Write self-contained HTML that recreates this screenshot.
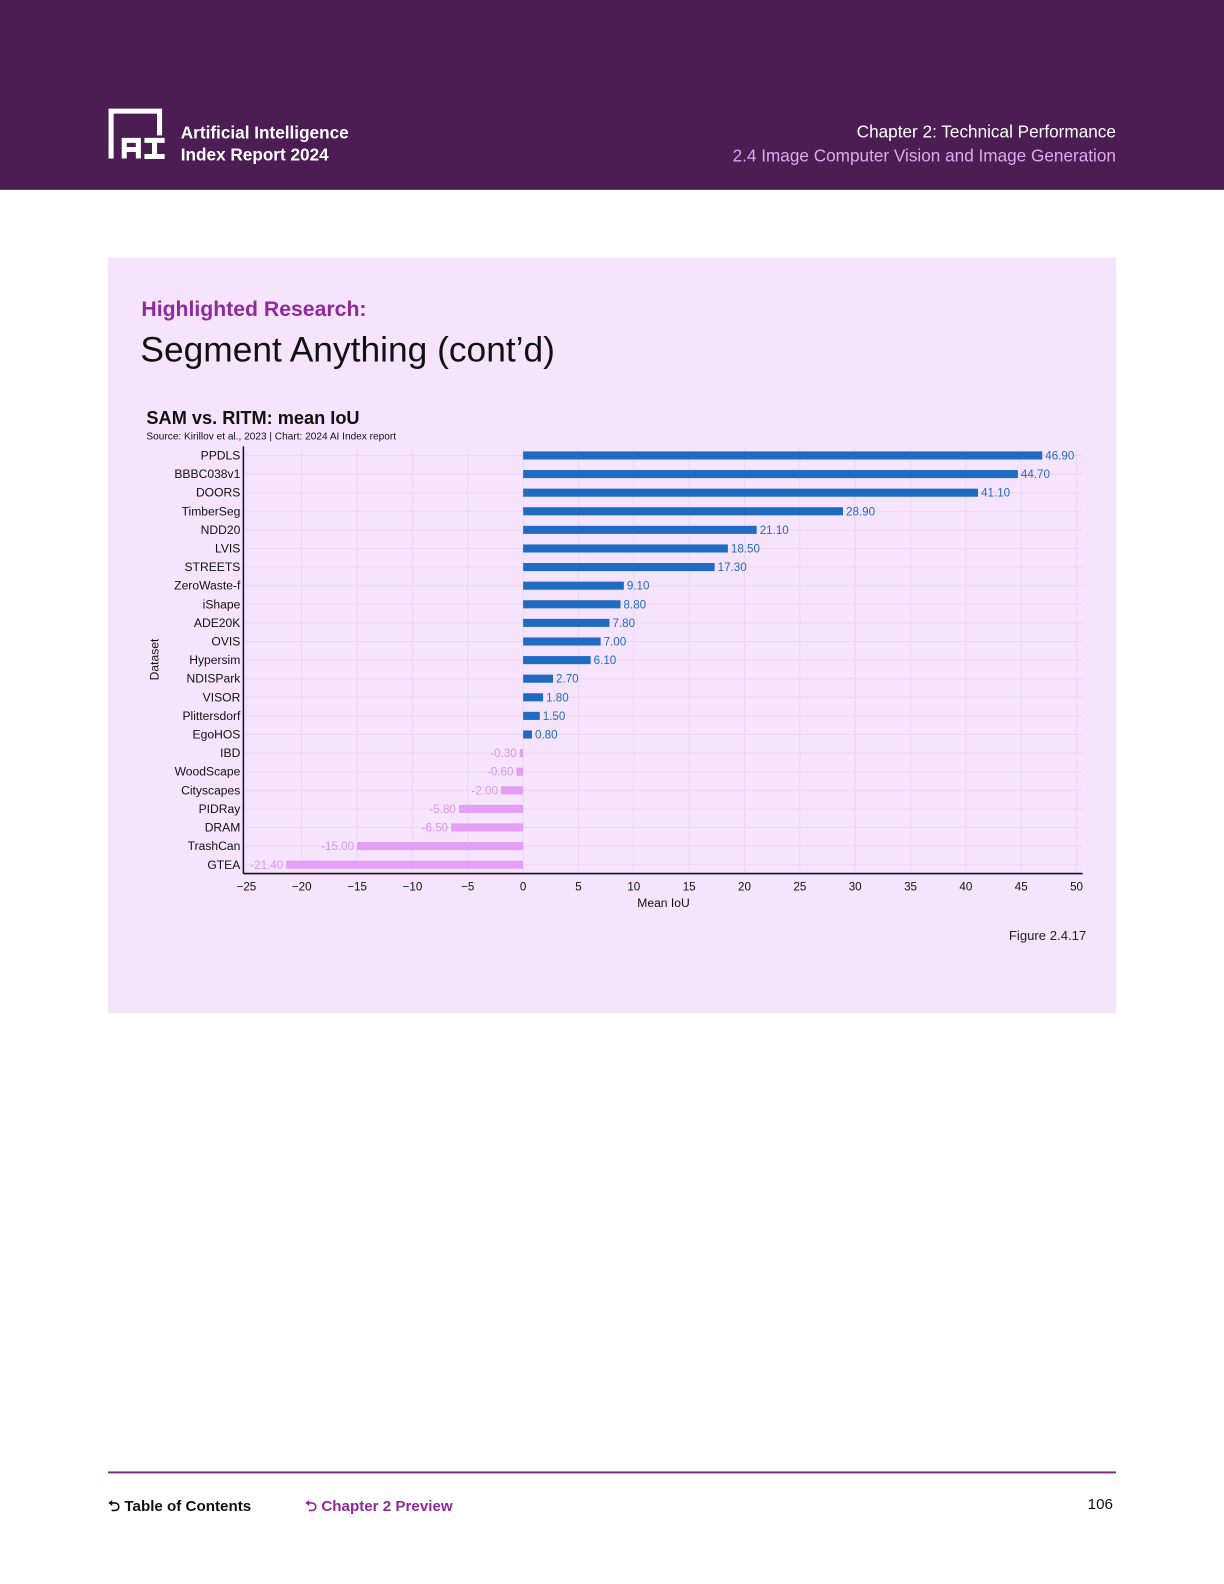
<!DOCTYPE html>
<html><head><meta charset="utf-8"><style>
body{margin:0;width:1224px;height:1584px;background:#fff;font-family:"Liberation Sans",sans-serif;position:relative;overflow:hidden}
#wrap{position:absolute;left:0;top:0;width:1212px;height:1568px;transform:scale(1.0099);transform-origin:0 0}
.abs{position:absolute}
</style></head><body>
<div id="wrap">
<div class="abs" style="left:0;top:0;width:1224px;height:188px;background:#4b1d52"></div>
<svg class="abs" style="left:107px;top:107px" width="60" height="52">
<path d="M3 50V3h48v24" fill="none" stroke="#fff" stroke-width="5"/>
<path d="M16 50V32h14v18M16 41h14" fill="none" stroke="#fff" stroke-width="5"/>
<path d="M36 32h20M46 32v16M36 48h20" fill="none" stroke="#fff" stroke-width="5"/>
</svg>
<div class="abs" style="left:179px;top:121px;color:#fff;font-size:17px;font-weight:bold;line-height:22px">Artificial Intelligence<br>Index Report 2024</div>
<div class="abs" style="right:107px;top:119px;color:#fff;font-size:17px;text-align:right;line-height:24px">Chapter 2: Technical Performance<br><span style="color:#e3a6f0">2.4 Image Computer Vision and Image Generation</span></div>
<div class="abs" style="left:107px;top:255px;width:998px;height:748px;background:#f6e4fc"></div>
<div class="abs" style="left:140px;top:295px;color:#8e2a9b;font-size:21px;font-weight:bold">Highlighted Research:</div>
<div class="abs" style="left:139px;top:327px;color:#111;font-size:35px">Segment Anything (cont’d)</div>
<div class="abs" style="left:145px;top:404px;font-size:18px;font-weight:bold;color:#111">SAM vs. RITM: mean IoU</div>
<div class="abs" style="left:145px;top:427px;font-size:10px;color:#111">Source: Kirillov et al., 2023 | Chart: 2024 AI Index report</div>
<svg class="abs" id="chart" style="left:0;top:0" width="1224" height="1000"></svg>
<div class="abs" style="left:999px;top:919px;font-size:13px;color:#222">Figure 2.4.17</div>
<div class="abs" style="left:107px;top:1457px;width:998px;height:2px;background:#7a2d86"></div>
<div class="abs" style="left:107px;top:1481px;font-size:15px;font-weight:bold;color:#111">⮌ Table of Contents</div>
<div class="abs" style="left:302px;top:1481px;font-size:15px;font-weight:bold;color:#8e2a9b">⮌ Chapter 2 Preview</div>
<div class="abs" style="left:1077px;top:1481px;font-size:15px;color:#111">106</div>
</div>
<script>
const categories=["PPDLS","BBBC038v1","DOORS","TimberSeg","NDD20","LVIS","STREETS","ZeroWaste-f","iShape","ADE20K","OVIS","Hypersim","NDISPark","VISOR","Plittersdorf","EgoHOS","IBD","WoodScape","Cityscapes","PIDRay","DRAM","TrashCan","GTEA"];
const values=[46.9,44.7,41.1,28.9,21.1,18.5,17.3,9.1,8.8,7.8,7.0,6.1,2.7,1.8,1.5,0.8,-0.3,-0.6,-2.0,-5.8,-6.5,-15.0,-21.4];
const ticks=[-25,-20,-15,-10,-5,0,5,10,15,20,25,30,35,40,45,50];
const svg=document.getElementById('chart');const NS='http://www.w3.org/2000/svg';
const x=v=>518+(v)*10.96;const y=i=>451+i*18.42;
function mk(t,a,txt){const e=document.createElementNS(NS,t);for(const k in a)e.setAttribute(k,a[k]);if(txt!==undefined)e.textContent=txt;svg.appendChild(e);return e;}
ticks.forEach(t=>{const g=mk('line',{x1:x(t),x2:x(t),y1:444,y2:864,stroke:'#ecd6f3','stroke-width':1});


const l=mk('text',{x:x(t),y:882,'font-size':11.5,'text-anchor':'middle',fill:'#111','font-family':'Liberation Sans'},t<0?'−'+(-t):t);

});
categories.forEach((c,i)=>{const v=values[i];const pos=v>=0;
const gl=mk('line',{x1:243,x2:1072,y1:y(i),y2:y(i),stroke:'#ecd6f3','stroke-width':1});


const b=mk('rect',{x:Math.min(x(0),x(v)),y:y(i)-4,width:Math.abs(x(v)-x(0)),height:8,fill:pos?'#1f6bc2':'#e39ef5'});


const lb=mk('text',{x:pos?x(v)+3:x(v)-3,y:y(i)+4,'font-size':11.5,'text-anchor':pos?'start':'end',fill:pos?'#1f6bc2':'#d79ae8','font-family':'Liberation Sans'},v.toFixed(2));


const cl=mk('text',{x:238,y:y(i)+4,'font-size':12,'text-anchor':'end',fill:'#111','font-family':'Liberation Sans'},c);

});
const ax=mk('line',{x1:241,x2:1072,y1:865,y2:865,stroke:'#111','stroke-width':1.5});


const ay=mk('line',{x1:241,x2:241,y1:442,y2:865,stroke:'#111','stroke-width':1.5});


const xt=mk('text',{x:657,y:898,'font-size':12,'text-anchor':'middle',fill:'#111','font-family':'Liberation Sans'},'Mean IoU');


const yt=mk('text',{x:157,y:653,'font-size':12,'text-anchor':'middle',fill:'#111','font-family':'Liberation Sans',transform:'rotate(-90 157 653)'},'Dataset');


</script>
</body></html>
